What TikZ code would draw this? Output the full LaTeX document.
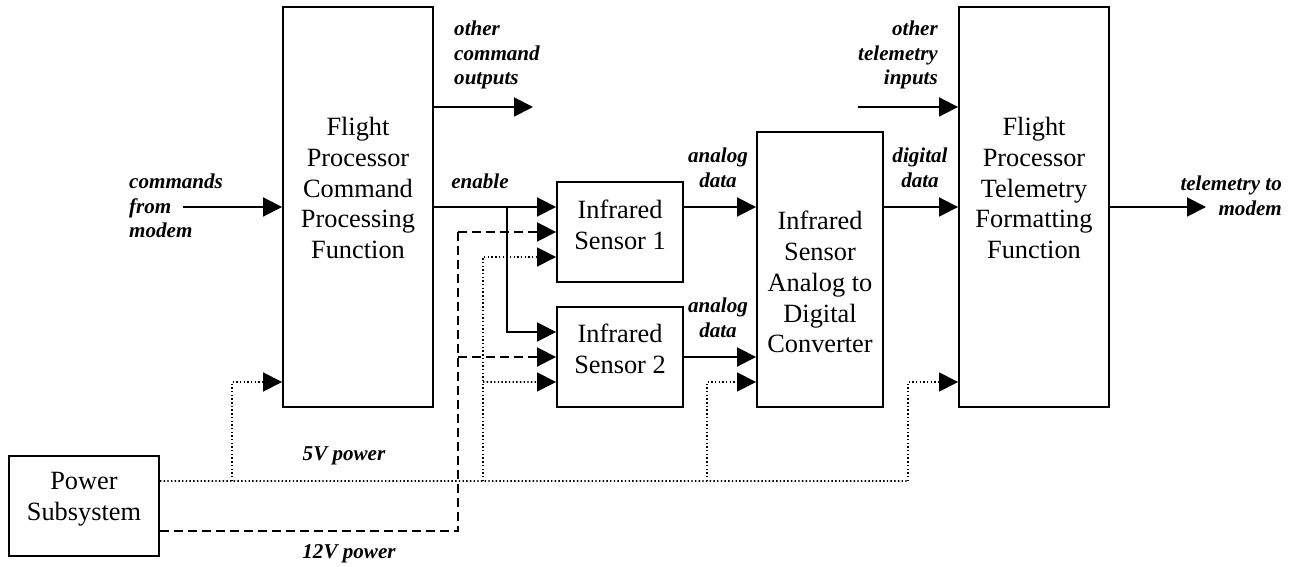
\documentclass[tikz,border=0pt]{standalone}
\usepackage{fontspec}
\setmainfont{Liberation Serif}
\usetikzlibrary{arrows.meta}

\begin{document}
\begin{tikzpicture}[x=0.02cm, y=-0.02cm,
		blk/.style={draw, line width=1.1pt, inner sep=0pt},
		blktext/.style={align=center, font=\fontsize{15}{17.6}\selectfont},
		lbl/.style={font=\fontsize{12}{14}\selectfont\bfseries\itshape},
		wire/.style={line width=1.1pt},
		dotw/.style={line width=0.9pt, dash pattern=on 0.8pt off 1.3pt},
		dashw/.style={line width=1.1pt, dash pattern=on 0.18cm off 0.1cm},
		head/.style={-{Triangle[length=0.38cm, width=0.38cm]}}]
	\useasboundingbox (0,0) rectangle (1295,567);

	% blocks
	\node[blk, minimum width=3cm, minimum height=8cm] (fpc) at (358,207) {};
	\node[blktext] (fpcname) at (358,188) {Flight\\Processor\\Command\\Processing\\Function};
	\node[blk, minimum width=2.52cm, minimum height=2cm] (sens1) at (620,232) {};
	\node[blktext] (sens1name) at (620,225) {Infrared\\Sensor 1};
	\node[blk, minimum width=2.52cm, minimum height=2cm] (sens2) at (620,357) {};
	\node[blktext] (sens2name) at (620,349) {Infrared\\Sensor 2};
	\node[blk, minimum width=2.52cm, minimum height=5.5cm] (adc) at (820,269.5) {};
	\node[blktext] (adcname) at (820,282) {Infrared\\Sensor\\Analog to\\Digital\\Converter};
	\node[blk, minimum width=3cm, minimum height=8cm] (fpt) at (1034,207) {};
	\node[blktext] (fptname) at (1034,188) {Flight\\Processor\\Telemetry\\Formatting\\Function};
	\node[blk, minimum width=3cm, minimum height=2cm] (pwr) at (84,506) {};
	\node[blktext] (pwrname) at (84,499) {Power\\Subsystem};

	% signal labels
	\node[lbl, align=left, anchor=west] (cmdlbl) at (123,206) {commands\\from\\modem};
	\node[lbl, align=left, anchor=west] (outlbl) at (448,55) {other\\command\\outputs};
	\node[lbl] (enlbl) at (480,181) {enable};
	\node[lbl, align=center] (an1lbl) at (718,168) {analog\\data};
	\node[lbl, align=center] (an2lbl) at (718,318) {analog\\data};
	\node[lbl, align=center] (diglbl) at (920,168) {digital\\data};
	\node[lbl, align=right, anchor=east] (tinlbl) at (944,55) {other\\telemetry\\inputs};
	\node[lbl, align=right, anchor=east] (tmlbl) at (1288,196) {telemetry to\\modem};
	\node[lbl] (v5lbl) at (344,456) {5V power};
	\node[lbl] (v12lbl) at (349,554) {12V power};

	% free ends and taps
	\coordinate (cmdin) at (183,207);
	\coordinate (cmdout) at (533,107);
	\coordinate (tlmin) at (858,107);
	\coordinate (tlmout) at (1206,207);
	\coordinate (jen) at (507,207);
	\coordinate (v12) at (458,0);
	\coordinate (t5a) at (232,481);
	\coordinate (t5b) at (483,481);
	\coordinate (t5c) at (707,481);
	\coordinate (t5d) at (908,481);

	% commands and data
	\draw[wire, head] (cmdin) -- (fpc.west);
	\draw[wire, head] (fpc.east |- cmdout) -- (cmdout);
	\draw[wire, head] (fpc.east) -- (fpc.east -| sens1.west);
	\draw[wire, head] (jen) |- ([yshift=0.5cm]sens2.west);
	\draw[wire, head] ([yshift=0.5cm]sens1.east) coordinate (a1) -- (a1 -| adc.west);
	\draw[wire, head] (sens2.east) -- (sens2.east -| adc.west);
	\draw[wire, head] (adc.east |- fpt.west) -- (fpt.west);
	\draw[wire, head] (tlmin) -- (tlmin -| fpt.west);
	\draw[wire, head] (fpt.east) -- (tlmout);

	% 12V power
	\draw[dashw] ([yshift=-0.5cm]pwr.east) -| (v12 |- sens1.west);
	\draw[dashw, head] (v12 |- sens1.west) -- (sens1.west);
	\draw[dashw, head] (v12 |- sens2.west) -- (sens2.west);

	% 5V power
	\draw[dotw] ([yshift=0.5cm]pwr.east) -- (t5d);
	\draw[dotw, head] (t5a) |- (fpc.west |- 0,382);
	\draw[dotw, head] (t5b) |- ([yshift=-0.5cm]sens1.west);
	\draw[dotw, head] (t5b |- 0,382) -- ([yshift=-0.5cm]sens2.west);
	\draw[dotw, head] (t5c) |- (adc.west |- 0,382);
	\draw[dotw, head] (t5d) |- (fpt.west |- 0,382);
\end{tikzpicture}
\end{document}
